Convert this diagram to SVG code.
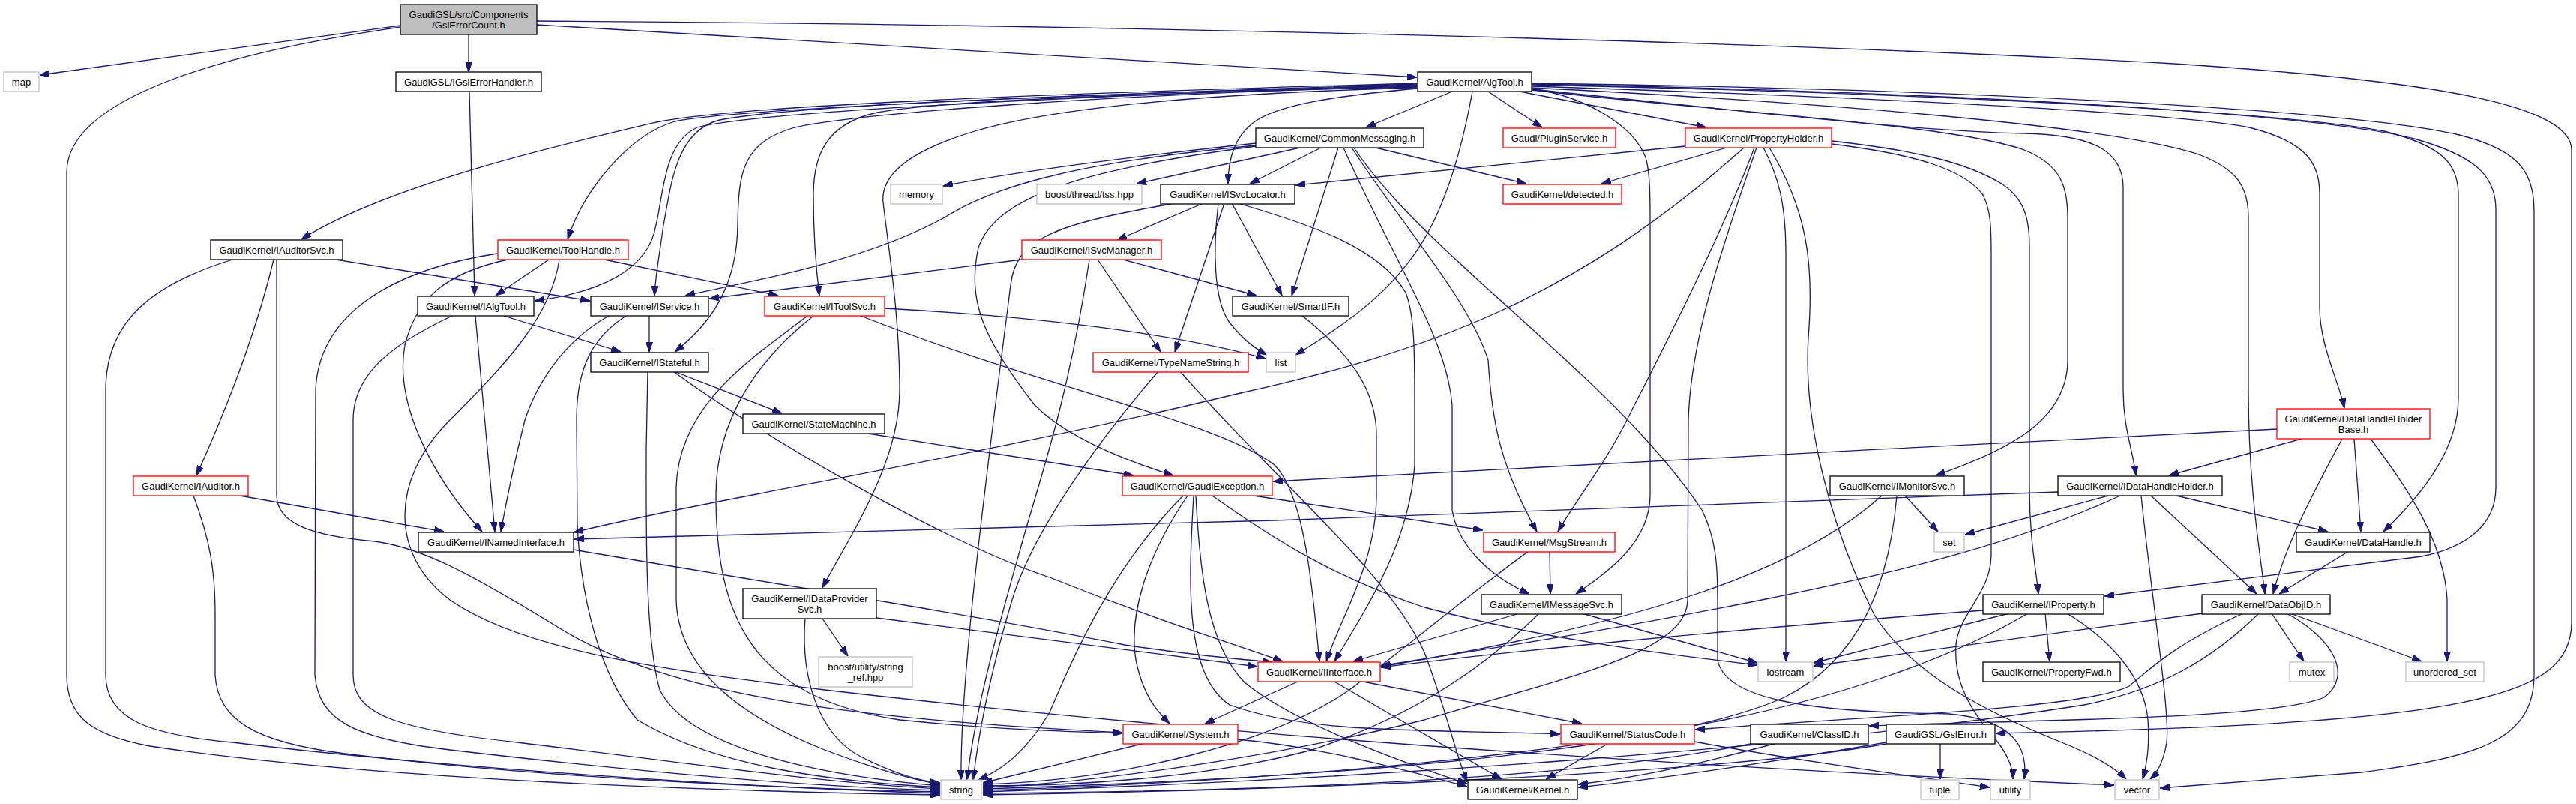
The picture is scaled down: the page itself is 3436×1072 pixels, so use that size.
<svg xmlns="http://www.w3.org/2000/svg" width="3436" height="1072" viewBox="0 0 3436 1072">
<defs>
<style>
.n rect{fill:#ffffff;stroke:#000000;stroke-width:1.3}
.r rect{stroke:#ff0000}
.g rect{stroke:#bfbfbf}
.root rect{fill:#bfbfbf}
text{font-family:"Liberation Sans",Arial,Helvetica,sans-serif;font-size:13px;text-anchor:middle;fill:#000000}
#edges path{fill:none;stroke:#191970;stroke-width:1.3;marker-end:url(#a)}
</style>
<marker id="a" markerWidth="13" markerHeight="9" refX="13" refY="4.5" orient="auto" markerUnits="userSpaceOnUse"><path d="M0,0 L13,4.5 L0,9 z" fill="#191970" stroke="#191970" stroke-width="1"/></marker>
</defs>
<rect x="0" y="0" width="3436" height="1072" fill="#ffffff"/>
<g id="edges">
<path d="M534,34 L53,100"/>
<path d="M534,36 C300,70 89,130 89,230 L89,900 C89,955 120,980 200,995 C500,1040 950,1055 1254,1060"/>
<path d="M625,46 L625,96"/>
<path d="M716,33 L1890,103"/>
<path d="M716,28 C1400,32 2300,52 2900,85 C3250,108 3430,140 3430,200 L3430,830 C3430,930 3300,965 2662,978"/>
<path d="M626,122 L633,394"/>
<path d="M1890,111 C1400,125 1000,140 880,162 C760,190 520,245 402,319"/>
<path d="M1890,112 C1400,128 980,145 900,162 C840,180 780,250 757,319"/>
<path d="M1890,113 C1400,130 1000,150 930,170 C885,190 885,260 875,300 C865,360 800,390 713,401"/>
<path d="M1890,114 C1400,126 1050,142 960,160 C900,175 895,250 885,300 C878,350 874,370 873,394"/>
<path d="M1890,115 C1500,125 1150,150 1060,170 C990,190 985,230 984,300 C983,380 950,430 900,469"/>
<path d="M1890,116 C1500,125 1250,135 1170,150 C1100,165 1085,210 1085,260 C1085,320 1090,370 1093,394"/>
<path d="M1890,117 C1600,125 1400,145 1300,175 C1200,205 1175,240 1178,270 C1185,330 1200,420 1200,520 C1200,620 1130,720 1097,784"/>
<path d="M1891,118 C1780,128 1700,140 1670,165 C1645,185 1638,215 1638,245"/>
<path d="M1937,122 L1822,170"/>
<path d="M1964,122 C1950,200 1930,260 1910,300 C1870,380 1800,430 1728,473"/>
<path d="M1985,122 L2057,170"/>
<path d="M2027,122 L2276,170"/>
<path d="M2043,118 C2120,130 2180,170 2195,210 C2201,230 2201,260 2201,300 L2201,660 C2201,720 2150,760 2102,792"/>
<path d="M2043,120 C2300,150 2600,165 2700,200 C2750,220 2758,250 2758,290 L2758,480 C2758,560 2680,600 2582,634"/>
<path d="M2043,119 C2300,145 2550,175 2700,178 C2790,180 2832,200 2832,250 L2832,520 C2832,570 2845,600 2849,634"/>
<path d="M2043,117 C2400,135 2800,165 2930,205 C2985,225 2999,250 2999,290 L2999,520 C2999,650 3015,740 3021,792"/>
<path d="M2043,115 C2500,130 2900,150 3000,170 C3080,190 3094,220 3094,260 L3094,410 C3094,460 3120,510 3127,544"/>
<path d="M2043,113 C2600,125 3050,150 3180,175 C3260,195 3279,220 3279,260 L3279,530 C3279,600 3230,660 3179,709"/>
<path d="M2043,112 C2700,125 3100,155 3220,185 C3310,210 3329,240 3329,280 L3329,650 C3329,700 3290,730 3230,742 L2807,795"/>
<path d="M2043,111 C2700,120 3150,150 3280,180 C3360,200 3380,230 3380,280 L3380,900 C3380,990 3300,1010 3150,1030 L2881,1051"/>
<path d="M2443,188 C2550,200 2620,215 2670,245 C2700,265 2707,290 2707,330 L2707,650 C2707,720 2716,760 2719,792"/>
<path d="M2443,192 C2550,205 2620,225 2645,260 C2655,280 2656,300 2656,340 L2656,740 C2656,790 2612,820 2609,860 C2605,920 2640,960 2665,990 C2680,1010 2685,1025 2685,1039"/>
<path d="M2352,197 C2375,240 2382,280 2382,340 L2382,882"/>
<path d="M2360,197 C2410,280 2420,350 2412,450 C2405,560 2440,700 2500,820 C2550,900 2650,950 2750,990 C2800,1010 2825,1028 2836,1039"/>
<path d="M2343,197 C2300,320 2255,450 2252,560 L2251,800 C2250,870 2100,900 1900,960 C1700,1010 1450,1045 1311,1050"/>
<path d="M2340,197 C2290,330 2200,500 2170,560 C2140,620 2100,670 2078,709"/>
<path d="M2303,197 L2136,245"/>
<path d="M2248,195 L1728,247"/>
<path d="M2326,197 C2100,400 1900,470 1650,525 C1300,610 950,665 765,710"/>
<path d="M2745,656 C2300,675 1900,690 1700,694 C1300,703 950,712 766,719"/>
<path d="M2812,661 L2621,713"/>
<path d="M2828,661 C2700,720 2550,760 2350,800 C2100,850 1950,870 1842,888"/>
<path d="M2856,661 C2870,800 2895,950 2890,990 C2886,1015 2878,1030 2868,1039"/>
<path d="M2869,661 L3010,792"/>
<path d="M2903,661 L3105,709"/>
<path d="M3037,572 C2600,594 2100,620 1698,642"/>
<path d="M3070,585 L2893,634"/>
<path d="M3124,585 C3095,640 3050,720 3032,792"/>
<path d="M3140,585 L3149,709"/>
<path d="M3162,585 C3210,650 3260,720 3264,800 L3264,882"/>
<path d="M2510,661 C2400,760 2200,830 1842,889"/>
<path d="M2530,661 C2520,780 2480,880 2380,930 C2200,1010 1700,1040 1311,1052"/>
<path d="M2541,661 L2585,709"/>
<path d="M3133,735 L3040,792"/>
<path d="M2645,814 C2300,840 2000,870 1842,890"/>
<path d="M2680,818 L2419,884"/>
<path d="M2705,818 C2600,880 2450,930 2300,960 C2000,1020 1600,1045 1311,1054"/>
<path d="M2728,818 L2734,882"/>
<path d="M2757,818 C2810,850 2860,900 2865,960 C2868,1000 2862,1025 2858,1039"/>
<path d="M2938,818 L2419,888"/>
<path d="M3030,818 L3073,882"/>
<path d="M3055,818 L3230,882"/>
<path d="M3050,818 C3110,850 3140,900 3100,930 C3030,960 2700,960 2493,968"/>
<path d="M2992,818 C2900,860 2870,890 2840,915 C2780,945 2500,955 2261,973"/>
<path d="M3013,818 C2950,880 2880,920 2780,940 C2400,1000 1800,1040 1311,1056"/>
<path d="M2588,991 L2588,1039"/>
<path d="M2516,990 C2400,1010 2250,1035 2105,1050"/>
<path d="M2516,992 C2300,1030 1800,1052 1311,1060"/>
<path d="M2370,991 C2280,1015 2200,1035 2105,1046"/>
<path d="M2340,991 C2100,1040 1700,1055 1311,1058"/>
<path d="M2146,991 L2062,1039"/>
<path d="M2260,989 C2400,1015 2550,1035 2654,1050"/>
<path d="M1731,909 L1607,965"/>
<path d="M1818,909 L2110,965"/>
<path d="M1780,909 L2003,1039"/>
<path d="M1527,991 L1311,1044"/>
<path d="M1651,986 C1750,995 1850,1020 1957,1049"/>
<path d="M1584,661 C1530,740 1505,820 1515,880 C1525,930 1545,950 1560,965"/>
<path d="M1578,661 C1480,760 1430,880 1400,950 C1370,1000 1340,1025 1305,1040"/>
<path d="M1592,661 C1585,780 1580,900 1640,940 C1750,980 1900,972 2081,979"/>
<path d="M1595,661 C1600,760 1610,860 1660,910 C1720,960 1850,1010 1957,1045"/>
<path d="M1672,661 L1978,707"/>
<path d="M1617,661 C1700,720 1780,770 1900,810 C2050,850 2200,870 2344,887"/>
<path d="M2027,818 L1805,882"/>
<path d="M2053,818 C1990,880 1900,950 1750,1000 C1600,1040 1420,1048 1311,1048"/>
<path d="M2110,818 L2344,884"/>
<path d="M2067,735 L2068,792"/>
<path d="M2039,735 C1950,800 1880,860 1800,920 C1700,990 1500,1040 1311,1046"/>
<path d="M1806,197 C1900,340 2150,500 2270,680 C2290,720 2291,760 2291,800 L2291,880 C2300,930 2400,950 2600,952 C2690,960 2705,1000 2700,1039"/>
<path d="M1675,191 C1500,210 1350,230 1258,248"/>
<path d="M1734,197 L1516,245"/>
<path d="M1762,197 L1667,245"/>
<path d="M1675,194 C1450,215 1330,245 1260,290 C1150,350 1000,375 914,394"/>
<path d="M1675,195 C1450,225 1330,260 1305,330 C1290,400 1310,450 1380,540 C1430,590 1520,620 1565,634"/>
<path d="M1785,197 L1723,394"/>
<path d="M1835,197 L2036,245"/>
<path d="M1803,197 C1870,300 1960,400 1985,480 C1990,560 2000,620 2050,709"/>
<path d="M1792,197 C1860,350 1930,450 1937,540 L1937,680 C1945,730 1990,770 2040,792"/>
<path d="M1605,271 L1490,320"/>
<path d="M1643,271 L1710,394"/>
<path d="M1633,271 L1567,469"/>
<path d="M1625,271 C1618,330 1618,400 1640,430 C1660,455 1675,465 1690,473"/>
<path d="M1562,272 C1400,300 1355,320 1348,380 C1320,600 1280,900 1282,1040"/>
<path d="M1651,271 C1750,300 1840,330 1875,390 C1887,420 1887,470 1887,540 L1887,620 C1880,720 1830,800 1780,882"/>
<path d="M1363,346 L946,398"/>
<path d="M1498,346 L1676,394"/>
<path d="M1464,346 L1548,469"/>
<path d="M1453,346 C1430,500 1400,600 1370,700 C1330,840 1300,950 1290,1040"/>
<path d="M1180,411 C1350,420 1550,440 1688,478"/>
<path d="M1148,421 C1400,520 1620,560 1700,620 C1740,660 1750,780 1760,882"/>
<path d="M1077,421 C1000,480 905,540 902,650 L902,800 C905,900 1000,960 1100,1000 C1180,1030 1230,1042 1254,1046"/>
<path d="M1085,421 C1010,480 955,560 955,660 C955,820 1000,930 1200,960 C1350,975 1430,975 1497,978"/>
<path d="M1737,421 C1800,470 1836,520 1836,580 L1836,660 C1836,750 1790,820 1769,882"/>
<path d="M1545,495 C1480,570 1380,700 1350,800 C1320,900 1305,980 1298,1040"/>
<path d="M1574,495 C1700,640 1850,760 1900,870 C1930,950 1940,1000 1957,1043"/>
<path d="M1097,825 L1131,875"/>
<path d="M1169,824 L1677,889"/>
<path d="M1074,825 C1068,900 1090,980 1150,1010 C1200,1035 1230,1042 1254,1044"/>
<path d="M448,346 L787,401"/>
<path d="M365,346 C340,450 300,550 262,634"/>
<path d="M310,346 C200,380 141,430 141,520 L141,900 C141,960 200,980 310,990 C600,1025 1000,1050 1254,1058"/>
<path d="M369,346 L369,660 C369,700 420,715 500,722 C560,730 620,760 750,840 C900,930 1150,960 1497,977"/>
<path d="M732,346 L661,394"/>
<path d="M677,346 C590,365 555,400 540,460 C525,540 580,640 643,709"/>
<path d="M806,346 L1038,394"/>
<path d="M663,338 C520,360 425,420 421,520 L420,900 C425,960 470,985 600,1000 C900,1035 1100,1050 1254,1054"/>
<path d="M746,346 C735,420 680,480 600,560 C520,640 520,740 600,800 C700,870 900,895 1100,920 C1700,990 2400,1030 2820,1047"/>
<path d="M634,421 L660,709"/>
<path d="M672,421 L828,469"/>
<path d="M603,421 C520,460 471,500 471,560 L471,900 C471,950 520,972 690,990 C900,1015 1100,1045 1254,1052"/>
<path d="M866,421 L866,469"/>
<path d="M812,421 C760,450 720,500 700,560 C685,620 675,670 668,709"/>
<path d="M835,421 C790,450 769,490 769,560 L770,700 C775,800 800,900 850,960 C950,1020 1100,1042 1254,1050"/>
<path d="M898,495 C1000,570 1250,720 1400,770 C1550,830 1650,860 1711,882"/>
<path d="M899,495 L1043,551"/>
<path d="M864,495 L862,600 C862,700 860,850 880,920 C920,1000 1100,1035 1254,1048"/>
<path d="M1158,578 L1512,634"/>
<path d="M320,661 L592,709"/>
<path d="M258,661 C280,720 287,760 287,820 L287,900 C290,960 340,990 460,1005 C700,1035 1000,1050 1254,1056"/>
<path d="M765,733 C950,765 1300,820 1500,860 C1600,875 1660,880 1697,883"/>
</g>
<g id="n_root" class="n root"><rect x="534" y="6" width="182" height="40"/><text x="625" y="23.5">GaudiGSL/src/Components</text><text x="625" y="37.5">/GslErrorCount.h</text></g>
<g id="n_map" class="n g"><rect x="5" y="96" width="47" height="26"/><text x="28.5" y="113.5">map</text></g>
<g id="n_igsl" class="n"><rect x="528" y="96" width="194" height="26"/><text x="625" y="113.5">GaudiGSL/IGslErrorHandler.h</text></g>
<g id="n_algtool" class="n"><rect x="1891" y="96" width="152" height="26"/><text x="1967" y="113.5">GaudiKernel/AlgTool.h</text></g>
<g id="n_iauditorsvc" class="n"><rect x="281" y="320" width="176" height="26"/><text x="369" y="337.5">GaudiKernel/IAuditorSvc.h</text></g>
<g id="n_toolhandle" class="n r"><rect x="664" y="320" width="174" height="26"/><text x="751" y="337.5">GaudiKernel/ToolHandle.h</text></g>
<g id="n_ialgtool" class="n"><rect x="557" y="395" width="155" height="26"/><text x="634.5" y="412.5">GaudiKernel/IAlgTool.h</text></g>
<g id="n_iservice" class="n"><rect x="788" y="395" width="157" height="26"/><text x="866.5" y="412.5">GaudiKernel/IService.h</text></g>
<g id="n_istateful" class="n"><rect x="788" y="470" width="157" height="26"/><text x="866.5" y="487.5">GaudiKernel/IStateful.h</text></g>
<g id="n_commonmsg" class="n"><rect x="1675" y="171" width="224" height="26"/><text x="1787" y="188.5">GaudiKernel/CommonMessaging.h</text></g>
<g id="n_memory" class="n g"><rect x="1188" y="246" width="69" height="26"/><text x="1222.5" y="263.5">memory</text></g>
<g id="n_tss" class="n g"><rect x="1383" y="246" width="140" height="26"/><text x="1453" y="263.5">boost/thread/tss.hpp</text></g>
<g id="n_isvclocator" class="n"><rect x="1548" y="246" width="179" height="26"/><text x="1637.5" y="263.5">GaudiKernel/ISvcLocator.h</text></g>
<g id="n_isvcmanager" class="n r"><rect x="1363" y="320" width="186" height="26"/><text x="1456" y="337.5">GaudiKernel/ISvcManager.h</text></g>
<g id="n_itoolsvc" class="n r"><rect x="1020" y="395" width="160" height="26"/><text x="1100" y="412.5">GaudiKernel/IToolSvc.h</text></g>
<g id="n_smartif" class="n"><rect x="1644" y="395" width="155" height="26"/><text x="1721.5" y="412.5">GaudiKernel/SmartIF.h</text></g>
<g id="n_typename" class="n r"><rect x="1458" y="470" width="207" height="26"/><text x="1561.5" y="487.5">GaudiKernel/TypeNameString.h</text></g>
<g id="n_list" class="n g"><rect x="1689" y="470" width="39" height="26"/><text x="1708.5" y="487.5">list</text></g>
<g id="n_plugin" class="n r"><rect x="2005" y="171" width="150" height="26"/><text x="2080" y="188.5">Gaudi/PluginService.h</text></g>
<g id="n_propholder" class="n r"><rect x="2248" y="171" width="195" height="26"/><text x="2345.5" y="188.5">GaudiKernel/PropertyHolder.h</text></g>
<g id="n_detected" class="n r"><rect x="2005" y="246" width="158" height="26"/><text x="2084" y="263.5">GaudiKernel/detected.h</text></g>
<g id="n_dhhb" class="n r"><rect x="3037" y="545" width="204" height="40"/><text x="3139" y="562.5">GaudiKernel/DataHandleHolder</text><text x="3139" y="576.5">Base.h</text></g>
<g id="n_idhh" class="n"><rect x="2745" y="635" width="219" height="26"/><text x="2854.5" y="652.5">GaudiKernel/IDataHandleHolder.h</text></g>
<g id="n_imonitor" class="n"><rect x="2441" y="635" width="179" height="26"/><text x="2530.5" y="652.5">GaudiKernel/IMonitorSvc.h</text></g>
<g id="n_set" class="n g"><rect x="2580" y="710" width="40" height="26"/><text x="2600" y="727.5">set</text></g>
<g id="n_datahandle" class="n"><rect x="3063" y="710" width="178" height="26"/><text x="3152" y="727.5">GaudiKernel/DataHandle.h</text></g>
<g id="n_iproperty" class="n"><rect x="2645" y="793" width="161" height="26"/><text x="2725.5" y="810.5">GaudiKernel/IProperty.h</text></g>
<g id="n_dataobjid" class="n"><rect x="2937" y="793" width="171" height="26"/><text x="3022.5" y="810.5">GaudiKernel/DataObjID.h</text></g>
<g id="n_propfwd" class="n"><rect x="2645" y="883" width="183" height="26"/><text x="2736.5" y="900.5">GaudiKernel/PropertyFwd.h</text></g>
<g id="n_mutex" class="n g"><rect x="3054" y="883" width="59" height="26"/><text x="3083.5" y="900.5">mutex</text></g>
<g id="n_uset" class="n g"><rect x="3209" y="883" width="104" height="26"/><text x="3261" y="900.5">unordered_set</text></g>
<g id="n_gslerror" class="n"><rect x="2516" y="966" width="145" height="26"/><text x="2588.5" y="983.5">GaudiGSL/GslError.h</text></g>
<g id="n_tuple" class="n g"><rect x="2562" y="1040" width="51" height="26"/><text x="2587.5" y="1057.5">tuple</text></g>
<g id="n_utility" class="n g"><rect x="2655" y="1040" width="53" height="26"/><text x="2681.5" y="1057.5">utility</text></g>
<g id="n_vector" class="n g"><rect x="2821" y="1040" width="59" height="26"/><text x="2850.5" y="1057.5">vector</text></g>
<g id="n_msgstream" class="n r"><rect x="1979" y="710" width="175" height="26"/><text x="2066.5" y="727.5">GaudiKernel/MsgStream.h</text></g>
<g id="n_imessagesvc" class="n"><rect x="1976" y="793" width="187" height="26"/><text x="2069.5" y="810.5">GaudiKernel/IMessageSvc.h</text></g>
<g id="n_iinterface" class="n r"><rect x="1678" y="883" width="163" height="26"/><text x="1759.5" y="900.5">GaudiKernel/IInterface.h</text></g>
<g id="n_iostream" class="n g"><rect x="2345" y="883" width="73" height="26"/><text x="2381.5" y="900.5">iostream</text></g>
<g id="n_statuscode" class="n r"><rect x="2082" y="966" width="178" height="26"/><text x="2171" y="983.5">GaudiKernel/StatusCode.h</text></g>
<g id="n_classid" class="n"><rect x="2335" y="966" width="157" height="26"/><text x="2413.5" y="983.5">GaudiKernel/ClassID.h</text></g>
<g id="n_kernel" class="n"><rect x="1958" y="1040" width="146" height="26"/><text x="2031" y="1057.5">GaudiKernel/Kernel.h</text></g>
<g id="n_statemachine" class="n"><rect x="991" y="552" width="189" height="26"/><text x="1085.5" y="569.5">GaudiKernel/StateMachine.h</text></g>
<g id="n_gaudiexc" class="n r"><rect x="1497" y="635" width="200" height="26"/><text x="1597" y="652.5">GaudiKernel/GaudiException.h</text></g>
<g id="n_idataprov" class="n"><rect x="991" y="785" width="178" height="40"/><text x="1080" y="802.5">GaudiKernel/IDataProvider</text><text x="1080" y="816.5">Svc.h</text></g>
<g id="n_stringref" class="n g"><rect x="1092" y="876" width="125" height="40"/><text x="1154.5" y="893.5">boost/utility/string</text><text x="1154.5" y="907.5">_ref.hpp</text></g>
<g id="n_system" class="n r"><rect x="1498" y="966" width="153" height="26"/><text x="1574.5" y="983.5">GaudiKernel/System.h</text></g>
<g id="n_string" class="n g"><rect x="1255" y="1040" width="54" height="26"/><text x="1282" y="1057.5">string</text></g>
<g id="n_iauditor" class="n r"><rect x="178" y="635" width="153" height="26"/><text x="254.5" y="652.5">GaudiKernel/IAuditor.h</text></g>
<g id="n_inamed" class="n"><rect x="558" y="710" width="207" height="26"/><text x="661.5" y="727.5">GaudiKernel/INamedInterface.h</text></g>
</svg>
